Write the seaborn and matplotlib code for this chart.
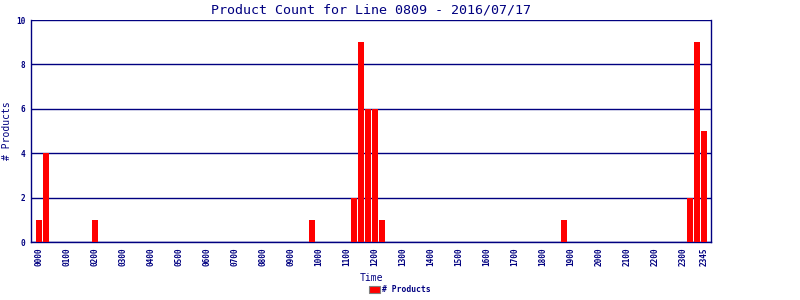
import matplotlib
matplotlib.use("Agg")
import matplotlib.pyplot as plt
from matplotlib.patches import Patch
import seaborn as sns
import pandas as pd

title = "Product Count for Line 0809 - 2016/07/17"
x_label = "Time"
y_label = "# Products"
legend_label = "# Products"

# 15-minute slots 0000 .. 2345
slots = [f"{h:02d}{m:02d}" for h in range(24) for m in (0, 15, 30, 45)]

# product counts per slot, one row per hour (4 quarter-hours)
counts = [
    1, 4, 0, 0,   # 00
    0, 0, 0, 0,   # 01
    1, 0, 0, 0,   # 02
    0, 0, 0, 0,   # 03
    0, 0, 0, 0,   # 04
    0, 0, 0, 0,   # 05
    0, 0, 0, 0,   # 06
    0, 0, 0, 0,   # 07
    0, 0, 0, 0,   # 08
    0, 0, 0, 1,   # 09
    0, 0, 0, 0,   # 10
    0, 2, 9, 6,   # 11
    6, 1, 0, 0,   # 12
    0, 0, 0, 0,   # 13
    0, 0, 0, 0,   # 14
    0, 0, 0, 0,   # 15
    0, 0, 0, 0,   # 16
    0, 0, 0, 0,   # 17
    0, 0, 0, 1,   # 18
    0, 0, 0, 0,   # 19
    0, 0, 0, 0,   # 20
    0, 0, 0, 0,   # 21
    0, 0, 0, 0,   # 22
    0, 2, 9, 5,   # 23
]

tick_labels = ["0000", "0100", "0200", "0300", "0400", "0500", "0600", "0700",
               "0800", "0900", "1000", "1100", "1200", "1300", "1400", "1500",
               "1600", "1700", "1800", "1900", "2000", "2100", "2200", "2300", "2345"]
y_ticks = [0, 2, 4, 6, 8, 10]

navy = "#000080"
mono = "DejaVu Sans Mono"

df = pd.DataFrame({"time": slots, "count": counts})

sns.set_style("white")
plt.rcParams["font.family"] = [mono]

fig = plt.figure(figsize=(8, 3), dpi=100)
ax = fig.add_axes([31 / 800, 58 / 300, 680 / 800, 222 / 300])

sns.barplot(data=df, x="time", y="count", color="red", saturation=1,
            width=0.86, ax=ax, zorder=3, linewidth=0)

ax.set_xlim(-8 / 7, 96)
ax.set_ylim(0, 10)
ax.set_yticks(y_ticks)
ax.set_yticklabels([str(v) for v in y_ticks], fontsize=5.6, color=navy,
                   fontweight="bold", family=mono)
tick_pos = [slots.index(t) for t in tick_labels]
ax.set_xticks(tick_pos)
ax.set_xticklabels(tick_labels, rotation=90, fontsize=5.6, color=navy,
                   fontweight="bold", family=mono)
ax.tick_params(axis="x", length=0, pad=4)
ax.tick_params(axis="y", length=0, pad=4)

ax.grid(axis="y", color=navy, linewidth=1, zorder=0)
ax.grid(axis="x", visible=False)
for side in ["left", "bottom", "right"]:
    ax.spines[side].set_color(navy)
    ax.spines[side].set_linewidth(1)
ax.spines["top"].set_visible(False)

ax.set_title(title, fontsize=9.6, color=navy, family=mono, pad=5)
ax.set_xlabel(x_label, fontsize=7, color=navy, family=mono)
ax.set_ylabel(y_label, fontsize=7, color=navy, family=mono)
ax.yaxis.set_label_coords(-19 / 680, 0.5)
ax.xaxis.set_label_coords(0.5, -31 / 222)

handle = Patch(facecolor="red", edgecolor="gray", linewidth=0.8)
fig.legend([handle], [legend_label], loc="lower center", bbox_to_anchor=(0.5, -0.005),
           frameon=False, prop={"family": mono, "size": 5.8, "weight": "bold"},
           handlelength=1.3, handleheight=0.9, handletextpad=0.3)
for t in fig.legends[0].get_texts():
    t.set_color(navy)

fig.savefig("out.png", dpi=100)
